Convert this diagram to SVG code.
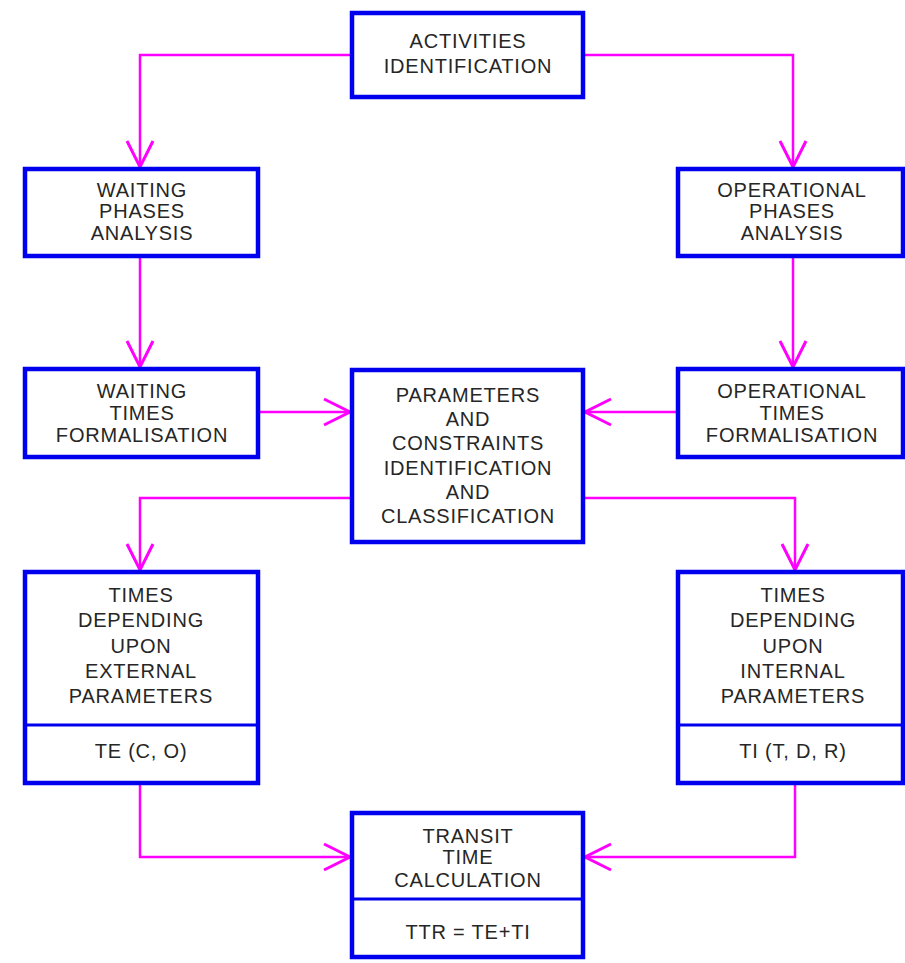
<svg xmlns="http://www.w3.org/2000/svg" width="905" height="963" viewBox="0 0 905 963">
<style>
.box{fill:#fff;stroke:#0000ee;stroke-width:4.5}
.div{stroke:#0000ee;stroke-width:3}
.t{font-family:"Liberation Sans",Arial,sans-serif;font-size:20px;letter-spacing:0.8px;fill:#262626;text-anchor:middle}
.c{fill:none;stroke:#ff00ff;stroke-width:2.5}
</style>
<defs>
<marker id="ah" markerUnits="userSpaceOnUse" markerWidth="40" markerHeight="40" viewBox="-30 -20 40 40" refX="0" refY="0" orient="auto">
<path d="M-26,-13 L0,0 L-26,13" fill="none" stroke="#ff00ff" stroke-width="3"/>
</marker>
</defs>
<rect width="905" height="963" fill="#fff"/>
<g id="connectors">
<path class="c" d="M352,55 H140 V167" marker-end="url(#ah)"/>
<path class="c" d="M583,55 H793 V167" marker-end="url(#ah)"/>
<path class="c" d="M140,256 V367" marker-end="url(#ah)"/>
<path class="c" d="M793,256 V367" marker-end="url(#ah)"/>
<path class="c" d="M258,412 H350" marker-end="url(#ah)"/>
<path class="c" d="M678,412 H585" marker-end="url(#ah)"/>
<path class="c" d="M352,498 H140 V570" marker-end="url(#ah)"/>
<path class="c" d="M583,498 H795 V570" marker-end="url(#ah)"/>
<path class="c" d="M140,783 V857 H350" marker-end="url(#ah)"/>
<path class="c" d="M795,783 V857 H585" marker-end="url(#ah)"/>
</g>
<g id="activities">
<rect class="box" x="352" y="13" width="231" height="84"/>
<text class="t" x="468" y="48">ACTIVITIES</text>
<text class="t" x="468" y="73">IDENTIFICATION</text>
</g>
<g id="waiting-phases">
<rect class="box" x="25" y="169" width="233" height="87"/>
<text class="t" x="142" y="197">WAITING</text>
<text class="t" x="142" y="218">PHASES</text>
<text class="t" x="142" y="240">ANALYSIS</text>
</g>
<g id="operational-phases">
<rect class="box" x="678" y="169" width="225" height="87"/>
<text class="t" x="792" y="197">OPERATIONAL</text>
<text class="t" x="792" y="218">PHASES</text>
<text class="t" x="792" y="240">ANALYSIS</text>
</g>
<g id="waiting-times">
<rect class="box" x="25" y="369" width="233" height="88"/>
<text class="t" x="142" y="398">WAITING</text>
<text class="t" x="142" y="420">TIMES</text>
<text class="t" x="142" y="442">FORMALISATION</text>
</g>
<g id="operational-times">
<rect class="box" x="678" y="369" width="225" height="88"/>
<text class="t" x="792" y="398">OPERATIONAL</text>
<text class="t" x="792" y="420">TIMES</text>
<text class="t" x="792" y="442">FORMALISATION</text>
</g>
<g id="parameters">
<rect class="box" x="352" y="370" width="231" height="172"/>
<text class="t" x="468" y="402">PARAMETERS</text>
<text class="t" x="468" y="426">AND</text>
<text class="t" x="468" y="450">CONSTRAINTS</text>
<text class="t" x="468" y="475">IDENTIFICATION</text>
<text class="t" x="468" y="499">AND</text>
<text class="t" x="468" y="523">CLASSIFICATION</text>
</g>
<g id="external">
<rect class="box" x="25" y="572" width="233" height="211"/>
<line class="div" x1="25" y1="725" x2="258" y2="725"/>
<text class="t" x="141" y="602">TIMES</text>
<text class="t" x="141" y="627">DEPENDING</text>
<text class="t" x="141" y="653">UPON</text>
<text class="t" x="141" y="678">EXTERNAL</text>
<text class="t" x="141" y="703">PARAMETERS</text>
<text class="t" x="141" y="758">TE (C, O)</text>
</g>
<g id="internal">
<rect class="box" x="678" y="572" width="225" height="211"/>
<line class="div" x1="678" y1="725" x2="903" y2="725"/>
<text class="t" x="793" y="602">TIMES</text>
<text class="t" x="793" y="627">DEPENDING</text>
<text class="t" x="793" y="653">UPON</text>
<text class="t" x="793" y="678">INTERNAL</text>
<text class="t" x="793" y="703">PARAMETERS</text>
<text class="t" x="793" y="758">TI (T, D, R)</text>
</g>
<g id="transit">
<rect class="box" x="352" y="813" width="231" height="144"/>
<line class="div" x1="352" y1="899" x2="583" y2="899"/>
<text class="t" x="468" y="843">TRANSIT</text>
<text class="t" x="468" y="864">TIME</text>
<text class="t" x="468" y="887">CALCULATION</text>
<text class="t" x="468" y="939">TTR = TE+TI</text>
</g>
</svg>
